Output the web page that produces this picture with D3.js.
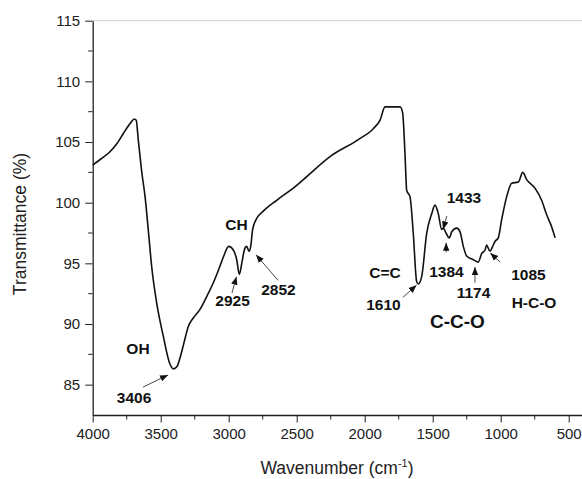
<!DOCTYPE html>
<html>
<head>
<meta charset="utf-8">
<script src="https://cdn.jsdelivr.net/npm/d3@7"></script>
<style>
  body { margin: 0; background: #fff; }
  svg { display: block; font-family: Arial, "Liberation Sans", sans-serif; }
  .tick text { fill: #222; }
</style>
</head>
<body>
<svg id="chart" width="582" height="479"></svg>
<script>
// FTIR spectrum
const wavenumbers = [4000, 3940, 3873, 3820, 3775, 3720, 3694, 3680, 3665, 3640, 3615, 3590, 3566, 3529, 3481, 3432, 3407, 3380, 3358, 3330, 3297, 3260, 3211, 3160, 3113, 3070, 3040, 3000,
  2966, 2941, 2922, 2904, 2885, 2868, 2851, 2838, 2824, 2794, 2746, 2647, 2525, 2451, 2255, 2047, 1937, 1887, 1851, 1740, 1721, 1704, 1691, 1667, 1643, 1618, 1606, 1581,
  1544, 1507, 1483, 1459, 1434, 1422, 1402, 1378, 1360, 1324, 1299, 1275, 1250, 1201, 1165, 1140, 1115, 1103, 1079, 1059, 1042, 1018, 993, 956, 919, 870, 838, 809, 748, 699, 662, 625, 600];
const transmittance = [103.1, 103.6, 104.2, 104.9, 105.7, 106.6, 106.9, 106.8, 105.2, 102.6, 100.5, 97.6, 94.7, 91.7, 89.0, 86.7, 86.3, 86.5, 87.2, 88.4, 89.8, 90.5, 91.2, 92.3, 93.4, 94.6, 95.5, 96.4,
  96.1, 95.3, 94.1, 95.0, 96.1, 96.4, 96.0, 96.4, 97.8, 98.7, 99.3, 100.2, 101.2, 101.9, 103.8, 105.2, 106.1, 106.8, 107.9, 107.9, 107.4, 104.1, 101.0, 100.5, 97.5, 93.5, 93.3, 93.9,
  97.5, 99.1, 99.8, 99.1, 97.8, 97.9, 97.5, 97.1, 97.6, 97.9, 97.6, 96.4, 95.6, 95.3, 95.1, 95.8, 96.1, 96.5, 96.0, 96.4, 96.8, 97.1, 98.6, 100.5, 101.6, 101.7, 102.5, 101.9, 101.2, 100.2, 99.0, 98.0, 97.1];

const xTicks = [4000, 3500, 3000, 2500, 2000, 1500, 1000, 500];
const yTicks = [85, 90, 95, 100, 105, 110, 115];

// annotation labels: text, wavenumber, transmittance at the baseline
const labelTexts = ['OH', '3406', 'CH', '2925', '2852', 'C=C', '1610', '1384', '1433', '1174', '1085', 'H-C-O', 'C-C-O'];
const labelWn = [3667, 3696, 2943, 2972, 2634, 1851, 1862, 1399, 1270, 1200, 796, 755, 1318];
const labelT = [87.5, 83.5, 97.75, 91.5, 92.4, 93.8, 91.15, 93.9, 100.0, 92.15, 93.6, 91.3, 89.7];
const labelBig = [false, false, false, false, false, false, false, false, false, false, false, false, true];

// arrows: from (wn, T) to (wn, T), head at the end
const arrowFrom = [[3630, 84.8], [2976, 92.55], [2637, 93.6], [1719, 92.2], [1396, 98.9], [1401, 95.9], [1189, 93.4], [1004, 95.1]];
const arrowTo = [[3446, 85.8], [2943, 93.9], [2799, 95.7], [1619, 93.2], [1424, 97.8], [1401, 96.7], [1189, 94.7], [1077, 95.85]];

const svg = d3.select('#chart');
const marginLeft = 92.7;
const marginRight = 582.3;
const marginTop = 20.7;
const marginBottom = 415;

const x = d3.scaleLinear().domain([4000, 400]).range([marginLeft, marginRight]);
const y = d3.scaleLinear().domain([82.5, 115]).range([marginBottom, marginTop]);

// top frame line (light)
svg.append('line')
  .attr('x1', marginLeft).attr('x2', marginRight)
  .attr('y1', marginTop).attr('y2', marginTop)
  .attr('stroke', '#d8d8d8').attr('stroke-width', 1.2);

// minor ticks
const xMinor = d3.range(3750, 400, -500);
const yMinor = d3.range(87.5, 115, 5);
svg.append('g').selectAll('line').data(xMinor).join('line')
  .attr('x1', d => x(d)).attr('x2', d => x(d))
  .attr('y1', marginBottom).attr('y2', marginBottom + 4.5)
  .attr('stroke', '#222').attr('stroke-width', 1);
svg.append('g').selectAll('line').data(yMinor).join('line')
  .attr('x1', marginLeft - 4.5).attr('x2', marginLeft)
  .attr('y1', d => y(d)).attr('y2', d => y(d))
  .attr('stroke', '#222').attr('stroke-width', 1);

const xAxis = svg.append('g')
  .attr('transform', `translate(0,${marginBottom})`)
  .call(d3.axisBottom(x).tickValues(xTicks).tickFormat(d3.format('d')).tickSize(7.5).tickPadding(6).tickSizeOuter(0));
const yAxis = svg.append('g')
  .attr('transform', `translate(${marginLeft},0)`)
  .call(d3.axisLeft(y).tickValues(yTicks).tickFormat(d3.format('d')).tickSize(7.5).tickPadding(5).tickSizeOuter(0));
[xAxis, yAxis].forEach(a => {
  a.select('.domain').attr('stroke', '#222').attr('stroke-width', 1.3);
  a.selectAll('.tick line').attr('stroke', '#222').attr('stroke-width', 1);
  a.selectAll('.tick text').attr('font-size', 15).attr('font-family', 'Arial, "Liberation Sans", sans-serif');
});

// spectrum
const points = wavenumbers.map((w, i) => [w, transmittance[i]]);
svg.append('path')
  .datum(points)
  .attr('fill', 'none')
  .attr('stroke', '#111')
  .attr('stroke-width', 1.6)
  .attr('stroke-linejoin', 'round')
  .attr('d', d3.line().x(d => x(d[0])).y(d => y(d[1])).curve(d3.curveMonotoneX));

// arrows
svg.append('defs').append('marker')
  .attr('id', 'head')
  .attr('viewBox', '0 0 10 10')
  .attr('refX', 10).attr('refY', 5)
  .attr('markerWidth', 8).attr('markerHeight', 8)
  .attr('markerUnits', 'userSpaceOnUse')
  .attr('orient', 'auto')
  .append('path')
  .attr('d', 'M0,1 L10,5 L0,9 Z')
  .attr('fill', '#111');

svg.append('g').selectAll('line').data(arrowFrom).join('line')
  .attr('x1', d => x(d[0])).attr('y1', d => y(d[1]))
  .attr('x2', (d, i) => x(arrowTo[i][0])).attr('y2', (d, i) => y(arrowTo[i][1]))
  .attr('stroke', '#333').attr('stroke-width', 0.9)
  .attr('marker-end', 'url(#head)');

// labels
svg.append('g').selectAll('text').data(labelTexts).join('text')
  .attr('x', (d, i) => x(labelWn[i]))
  .attr('y', (d, i) => y(labelT[i]))
  .attr('text-anchor', 'middle')
  .attr('font-weight', 'bold')
  .attr('font-size', (d, i) => labelBig[i] ? 19 : 15.5)
  .attr('fill', '#111')
  .text(d => d);

// axis titles
svg.append('text')
  .attr('transform', `translate(26,224) rotate(-90)`)
  .attr('text-anchor', 'middle')
  .attr('font-size', 17.5)
  .attr('fill', '#222')
  .text('Transmittance (%)');

const xt = svg.append('text')
  .attr('x', 337)
  .attr('y', 474)
  .attr('text-anchor', 'middle')
  .attr('font-size', 17.5)
  .attr('fill', '#222');
xt.append('tspan').text('Wavenumber (cm');
xt.append('tspan').attr('dy', -7).attr('font-size', 11).text('-1');
xt.append('tspan').attr('dy', 7).text(')');
</script>
</body>
</html>
